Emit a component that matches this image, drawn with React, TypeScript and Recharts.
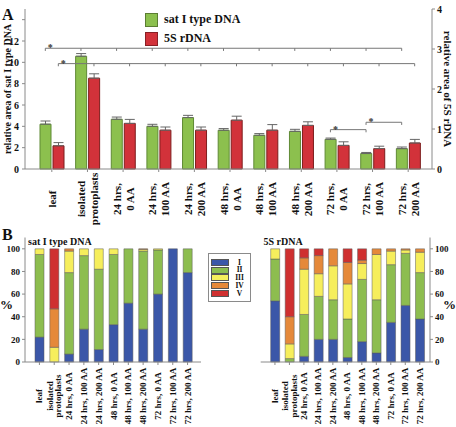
import React from "react";
import {
  BarChart,
  Bar,
  XAxis,
  YAxis,
  ErrorBar,
  ReferenceLine,
  ReferenceDot,
  Legend,
} from "recharts";

const FONT = '"Liberation Serif", "Times New Roman", Times, serif';
const AXIS = "#8a8a8a";
const INK = "#111";

const categories = [
  "leaf",
  "isolated protoplasts",
  "24 hrs, 0 AA",
  "24 hrs, 100 AA",
  "24 hrs, 200 AA",
  "48 hrs, 0 AA",
  "48 hrs, 100 AA",
  "48 hrs, 200 AA",
  "72 hrs, 0 AA",
  "72 hrs, 100 AA",
  "72 hrs, 200 AA",
];
// how the tick labels are broken over lines in each panel
const topTickLines = [
  ["leaf"],
  ["isolated", "protoplasts"],
  ["24 hrs,", "0 AA"],
  ["24 hrs,", "100 AA"],
  ["24 hrs,", "200 AA"],
  ["48 hrs,", "0 AA"],
  ["48 hrs,", "100 AA"],
  ["48 hrs,", "200 AA"],
  ["72 hrs,", "0 AA"],
  ["72 hrs,", "100 AA"],
  ["72 hrs,", "200 AA"],
];
const bottomTickLines = [
  ["leaf"],
  ["isolated", "protoplasts"],
  ["24 hrs, 0 AA"],
  ["24 hrs, 100 AA"],
  ["24 hrs, 200 AA"],
  ["48 hrs, 0 AA"],
  ["48 hrs, 100 AA"],
  ["48 hrs, 200 AA"],
  ["72 hrs, 0 AA"],
  ["72 hrs, 100 AA"],
  ["72 hrs, 200 AA"],
];

// panel A: relative areas (sat on left axis, 5S on right axis)
const satArea = [4.2, 10.57, 4.66, 4.0, 4.82, 3.63, 3.16, 3.53, 2.78, 1.45, 1.91];
const satErr = [0.3, 0.25, 0.21, 0.19, 0.21, 0.16, 0.16, 0.19, 0.12, 0.1, 0.15];
const rdnaArea = [0.58, 2.27, 1.14, 0.97, 0.97, 1.22, 0.97, 1.09, 0.59, 0.51, 0.65];
const rdnaErr = [0.08, 0.11, 0.1, 0.08, 0.08, 0.1, 0.14, 0.09, 0.09, 0.06, 0.09];

const leftTicks = [0, 2, 4, 6, 8, 10, 12, 14];
const rightTicks = [0, 1, 2, 3, 4];

// significance brackets (left axis units); side -1 = sat bar, +1 = 5S bar
const brackets = [
  { from: 0, to: 10, level: 11.32, side: -1, allTicks: true },
  { from: 0, to: 10, level: 9.88, side: 1, allTicks: true },
  { from: 8, to: 9, level: 3.69, side: -1, allTicks: false },
  { from: 9, to: 10, level: 4.38, side: -1, allTicks: false },
];

// panel B: % of nuclei in classes I-V
const classes = ["I", "II", "III", "IV", "V"];
const classColors = ["#3b57a8", "#8dbd4f", "#f6ee5c", "#e5893a", "#cf3030"];

const satClassI = [22, 0, 7, 29, 11, 33, 52, 29, 60, 100, 79];
const satClassII = [73, 0, 72, 65, 71, 62, 48, 69, 39, 0, 21];
const satClassIII = [5, 13, 19, 6, 18, 5, 0, 1.5, 1, 0, 0];
const satClassIV = [0, 34, 2, 0, 0, 0, 0, 0.5, 0, 0, 0];
const satClassV = [0, 53, 0, 0, 0, 0, 0, 0, 0, 0, 0];

const rdnaClassI = [54, 0, 5, 20, 20, 4, 18, 8, 35, 50, 38];
const rdnaClassII = [37, 3, 37, 38, 35, 34, 55, 47, 51, 46, 41];
const rdnaClassIII = [9, 13, 40, 20, 30, 31, 14, 40, 12, 3, 18];
const rdnaClassIV = [0, 24, 10, 16, 15, 19, 3, 5, 2, 1, 3];
const rdnaClassV = [0, 60, 8, 6, 0, 12, 10, 0, 0, 0, 0];

const pctTicks = [0, 20, 40, 60, 80, 100];

const BAR = 11;
const GAP = 2;
const SHIFT = (BAR + GAP) / 2;

const topSeries = ["sat I type DNA", "5S rDNA"];

const topData = categories.map((name, i) => ({
  name,
  sat: satArea[i],
  satErr: [0, satErr[i]],
  rdna: rdnaArea[i],
  rdnaErr: [0, rdnaErr[i]],
}));

const makeClassData = (cols: number[][]) =>
  categories.map((name, i) => {
    const row: any = { name };
    classes.forEach((c, k) => (row[c] = cols[k][i]));
    return row;
  });

const satClassData = makeClassData([satClassI, satClassII, satClassIII, satClassIV, satClassV]);
const rdnaClassData = makeClassData([rdnaClassI, rdnaClassII, rdnaClassIII, rdnaClassIV, rdnaClassV]);

// rotated, multi-line category label, centred on a fixed line below the axis
function RotTick(props: any) {
  const { x, y, payload, lines, size, gap, anchorY } = props;
  const idx = categories.indexOf(payload.value);
  const rows: string[] = lines[idx] ?? [payload.value];
  const cy = y + anchorY;
  return (
    <g>
      {rows.map((r, j) => {
        const lx = x + (j - (rows.length - 1) / 2) * gap;
        return (
          <text
            key={j}
            x={lx}
            y={cy}
            transform={`rotate(-90 ${lx} ${cy})`}
            textAnchor="middle"
            dominantBaseline="central"
            fontFamily={FONT}
            fontWeight="bold"
            fontSize={size}
            fill={INK}
          >
            {r}
          </text>
        );
      })}
    </g>
  );
}

const shifted = (dx: number) => (p: any) =>
  <line x1={p.x1 + dx} y1={p.y1} x2={p.x2 + dx} y2={p.y2} stroke="#777" strokeWidth={1} />;

const star = (dx: number) => (p: any) =>
  (
    <text x={p.cx + dx} y={p.cy + 3} textAnchor="middle" fontFamily={FONT} fontWeight="bold" fontSize={10} fill="#333">
      *
    </text>
  );

function TopLegend(props: any) {
  const payload = [...(props.payload ?? [])].sort(
    (a: any, b: any) => topSeries.indexOf(a.value) - topSeries.indexOf(b.value)
  );
  return (
    <div style={{ fontFamily: FONT, fontWeight: "bold", fontSize: 12, color: INK }}>
      {payload.map((p: any) => (
        <div key={p.value} style={{ display: "flex", alignItems: "center", height: 19 }}>
          <span
            style={{
              display: "inline-block",
              width: 11,
              height: 12,
              background: p.color,
              border: "1px solid rgba(0,0,0,0.35)",
              marginRight: 6,
            }}
          />
          {p.value}
        </div>
      ))}
    </div>
  );
}

function ClassLegend(props: any) {
  const payload = [...(props.payload ?? [])].sort(
    (a: any, b: any) => classes.indexOf(a.value) - classes.indexOf(b.value)
  );
  return (
    <div
      style={{
        width: 43,
        height: 49,
        border: `1px solid ${AXIS}`,
        background: "#fff",
        fontFamily: FONT,
        fontWeight: "bold",
        fontSize: 7.5,
        color: INK,
        paddingTop: 4.5,
        boxSizing: "border-box",
      }}
    >
      {payload.map((p: any) => (
        <div key={p.value} style={{ display: "flex", alignItems: "center", height: 7.8, lineHeight: "7.8px" }}>
          <span
            style={{
              display: "inline-block",
              marginLeft: 2,
              width: 17,
              height: 5,
              background: p.color,
              border: "0.5px solid #555",
            }}
          />
          <span style={{ width: 22, textAlign: "center" }}>{p.value}</span>
        </div>
      ))}
    </div>
  );
}

function TopChart() {
  const refs: React.ReactNode[] = [];
  brackets.forEach((b, bi) => {
    const dx = b.side * SHIFT;
    refs.push(
      <ReferenceLine
        key={`h${bi}`}
        yAxisId="l"
        segment={[
          { x: categories[b.from], y: b.level },
          { x: categories[b.to], y: b.level },
        ]}
        shape={shifted(dx)}
      />
    );
    const idxs = b.allTicks
      ? categories.slice(b.from, b.to + 1).map((_, k) => b.from + k)
      : [b.from, b.to];
    idxs.forEach((k) =>
      refs.push(
        <ReferenceLine
          key={`t${bi}-${k}`}
          yAxisId="l"
          segment={[
            { x: categories[k], y: b.level },
            { x: categories[k], y: b.level - 0.25 },
          ]}
          shape={shifted(dx)}
        />
      )
    );
    refs.push(
      <ReferenceDot
        key={`s${bi}`}
        yAxisId="l"
        x={categories[b.from]}
        y={b.level}
        shape={star(dx + 5)}
      />
    );
  });

  return (
    <BarChart
      width={456}
      height={232}
      data={topData}
      margin={{ top: 9, right: 0, left: 0, bottom: 0 }}
      barSize={BAR}
      barGap={GAP}
    >
      <XAxis
        dataKey="name"
        interval={0}
        height={63}
        padding={{ left: 9, right: 6 }}
        tickSize={3}
        tickMargin={2}
        axisLine={{ stroke: AXIS }}
        tickLine={{ stroke: AXIS }}
        tick={<RotTick lines={topTickLines} size={11} gap={13} anchorY={25} />}
      />
      <XAxis
        xAxisId="top"
        orientation="top"
        dataKey="name"
        height={0}
        tick={false}
        tickLine={false}
        axisLine={{ stroke: AXIS }}
      />
      <YAxis
        yAxisId="l"
        width={25}
        domain={[0, 15]}
        ticks={leftTicks}
        tickFormatter={(v: number) => (v === 14 ? "" : String(v))}
        tickSize={3}
        tickMargin={3}
        axisLine={{ stroke: AXIS }}
        tickLine={{ stroke: AXIS }}
        tick={{ fontFamily: FONT, fontWeight: "bold", fontSize: 10, fill: INK }}
      />
      <YAxis
        yAxisId="r"
        orientation="right"
        width={24}
        domain={[0, 4]}
        ticks={rightTicks}
        tickSize={3}
        tickMargin={2}
        axisLine={{ stroke: AXIS }}
        tickLine={{ stroke: AXIS }}
        tick={{ fontFamily: FONT, fontWeight: "bold", fontSize: 10, fill: INK }}
      />
      {refs}
      <Bar
        yAxisId="l"
        dataKey="sat"
        name={topSeries[0]}
        fill="#8cc04e"
        stroke="#5f8a35"
        strokeWidth={1}
        isAnimationActive={false}
      >
        <ErrorBar dataKey="satErr" direction="y" width={5} stroke="#666" strokeWidth={1} />
      </Bar>
      <Bar
        yAxisId="r"
        dataKey="rdna"
        name={topSeries[1]}
        fill="#d2323a"
        stroke="#7d1d1d"
        strokeWidth={1}
        isAnimationActive={false}
      >
        <ErrorBar dataKey="rdnaErr" direction="y" width={5} stroke="#666" strokeWidth={1} />
      </Bar>
      <Legend
        layout="vertical"
        align="center"
        verticalAlign="middle"
        content={<TopLegend />}
        wrapperStyle={{ left: 145, top: 10, width: 140 }}
      />
      <text x={2} y={20} fontFamily={FONT} fontWeight="bold" fontSize={16} fill={INK}>
        A
      </text>
      <text
        x={7}
        y={89}
        transform="rotate(-90 7 89)"
        textAnchor="middle"
        dominantBaseline="central"
        fontFamily={FONT}
        fontWeight="bold"
        fontSize={10}
        fill={INK}
      >
        relative area of sat I type DNA
      </text>
      <text
        x={448}
        y={89}
        transform="rotate(90 448 89)"
        textAnchor="middle"
        dominantBaseline="central"
        fontFamily={FONT}
        fontWeight="bold"
        fontSize={11}
        fill={INK}
      >
        relative area of 5S rDNA
      </text>
    </BarChart>
  );
}

function ClassChart(props: any) {
  const { data, title, side, width, marginLeft, marginRight, pad, withLegend, letter } = props;
  const right = side === "right";
  return (
    <BarChart
      width={width}
      height={202}
      data={data}
      margin={{ top: 12.5, right: marginRight, left: marginLeft, bottom: 0 }}
      barSize={9}
    >
      <XAxis
        dataKey="name"
        interval={0}
        height={65}
        padding={pad}
        tickSize={3}
        tickMargin={2}
        axisLine={{ stroke: AXIS }}
        tickLine={{ stroke: AXIS }}
        tick={<RotTick lines={bottomTickLines} size={9} gap={8.5} anchorY={29} />}
      />
      <XAxis
        xAxisId="top"
        orientation="top"
        dataKey="name"
        height={0}
        padding={pad}
        tick={false}
        tickLine={false}
        axisLine={{ stroke: AXIS }}
      />
      <YAxis
        orientation={right ? "right" : "left"}
        width={right ? 26 : 25}
        domain={[0, 110]}
        ticks={pctTicks}
        tickSize={3}
        tickMargin={2}
        axisLine={{ stroke: AXIS }}
        tickLine={{ stroke: AXIS }}
        tick={{ fontFamily: FONT, fontWeight: "bold", fontSize: 9, fill: INK }}
        label={{
          value: "%",
          position: right ? "insideRight" : "insideLeft",
          offset: 0,
          angle: 0,
          dy: 5,
          fontFamily: FONT,
          fontWeight: "bold",
          fontSize: 13,
          fill: INK,
        }}
      />
      <YAxis
        yAxisId="box"
        orientation={right ? "left" : "right"}
        width={0}
        domain={[0, 110]}
        tick={false}
        tickLine={false}
        axisLine={{ stroke: AXIS }}
      />
      {classes.map((c, i) => (
        <Bar
          key={c}
          dataKey={c}
          stackId="s"
          fill={classColors[i]}
          stroke="#5a5a5a"
          strokeWidth={0.5}
          isAnimationActive={false}
        />
      ))}
      {withLegend && (
        <Legend
          layout="vertical"
          align="center"
          verticalAlign="middle"
          content={<ClassLegend />}
          wrapperStyle={{ left: 3, top: 28, width: 43 }}
        />
      )}
      {letter && (
        <text x={2} y={15} fontFamily={FONT} fontWeight="bold" fontSize={16} fill={INK}>
          {letter}
        </text>
      )}
      <text
        x={right ? 58.5 : 28}
        y={20}
        fontFamily={FONT}
        fontWeight="bold"
        fontSize={10}
        fill={INK}
      >
        {title}
      </text>
    </BarChart>
  );
}

export default function App() {
  return (
    <div
      style={{
        position: "absolute",
        left: 0,
        top: 0,
        width: 456,
        height: 427,
        background: "#fff",
        overflow: "hidden",
      }}
    >
      <div style={{ position: "absolute", left: 0, top: 225 }}>
        <ClassChart
          data={satClassData}
          title="sat I type DNA"
          side="left"
          width={205}
          marginLeft={0}
          marginRight={4}
          pad={{ left: 7, right: 6 }}
          letter="B"
        />
      </div>
      <div style={{ position: "absolute", left: 205, top: 225 }}>
        <ClassChart
          data={rdnaClassData}
          title="5S rDNA"
          side="right"
          width={251}
          marginLeft={55.7}
          marginRight={0}
          pad={{ left: 7, right: 3 }}
          withLegend
        />
      </div>
      <div style={{ position: "absolute", left: 0, top: 0 }}>
        <TopChart />
      </div>
    </div>
  );
}
